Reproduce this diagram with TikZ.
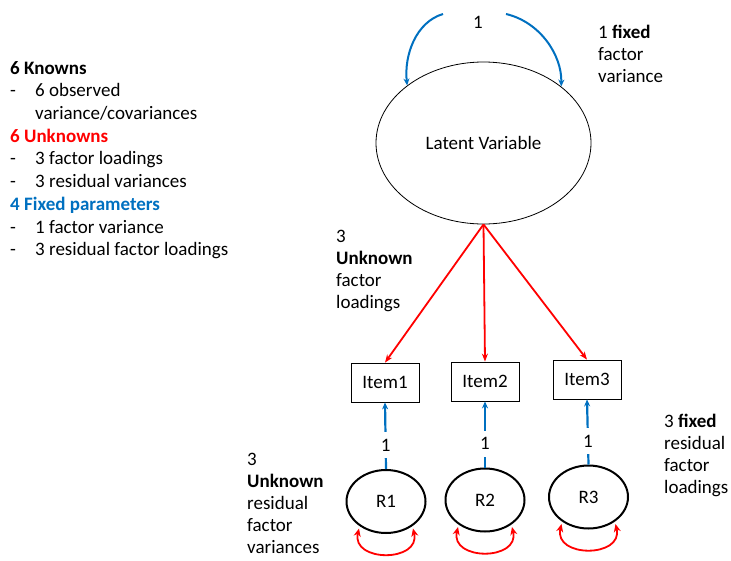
\documentclass[tikz,border=0pt]{standalone}
\usepackage{fontspec}
\setmainfont{Carlito}
\usetikzlibrary{shapes.geometric,arrows.meta}
\definecolor{fixblue}{RGB}{0,112,192}
\definecolor{unkred}{RGB}{255,0,0}
\begin{document}
\begin{tikzpicture}[x=1pt,y=-1pt,
  txt/.style={font=\fontsize{19}{22}\selectfont},
  lbl/.style={txt,align=left,anchor=north west,inner sep=0pt},
  latent/.style={draw,ellipse,line width=0.8pt,minimum width=215pt,minimum height=162pt,inner sep=0pt,txt},
  item/.style={draw,rectangle,line width=0.8pt,minimum width=68pt,minimum height=39pt,inner sep=0pt,txt},
  resid/.style={draw,ellipse,line width=2pt,minimum width=79pt,minimum height=63pt,inner sep=0pt,txt},
  loading/.style={draw=unkred,line width=1.8pt,-{Stealth[length=8pt,width=6pt]}},
  fixedarr/.style={draw=fixblue,line width=2.2pt,-{Stealth[length=7pt,width=6pt]}},
  resvar/.style={draw=unkred,line width=1.8pt,{Stealth[length=8pt,width=7pt]}-{Stealth[length=8pt,width=7pt]}},
  one/.style={txt,fill=white,inner xsep=2pt,inner ysep=7pt}
]
\useasboundingbox (0,0) rectangle (731,560);

% summary of knowns / unknowns
\node[lbl,font=\fontsize{19}{22.7}\selectfont] (summary) at (10,61) {%
  \textbf{6 Knowns}\\
  \makebox[25pt][l]{-}6 observed\\
  \makebox[25pt][l]{}variance/covariances\\
  \textcolor{unkred}{\textbf{6 Unknowns}}\\
  \makebox[25pt][l]{-}3 factor loadings\\
  \makebox[25pt][l]{-}3 residual variances\\
  \textcolor{fixblue}{\textbf{4 Fixed parameters}}\\
  \makebox[25pt][l]{-}1 factor variance\\
  \makebox[25pt][l]{-}3 residual factor loadings};

% latent factor with fixed variance
\node[latent] (lv) at (483.5,143) {Latent Variable};
\node[txt,inner sep=1pt] (v1) at (478,22) {1};
\coordinate (vl) at (443,14);
\coordinate (vr) at (506,14);
\draw[fixedarr,line width=2pt] (vl) .. controls (416,22) and (404,55) .. (lv.143);
\draw[fixedarr,line width=2pt] (vr) .. controls (540,22) and (562,55) .. (lv.36);
\node[lbl] (fixvar) at (598,25) {1 \textbf{fixed}\\factor\\variance};

% observed items
\node[item] (i1) at (385,382.5) {Item1};
\node[item] (i2) at (485,381.5) {Item2};
\node[item] (i3) at (587,379.5) {Item3};

\draw[loading] (lv.south) -- (i1.north);
\draw[loading] (lv.south) -- (i2.north);
\draw[loading] (lv.south) -- (i3.north);
\node[lbl] (loadlbl) at (336,230) {3\\\textbf{Unknown}\\factor\\loadings};

% residual factors
\node[resid] (r1) at (386,501.5) {R1};
\node[resid] (r2) at (485,500) {R2};
\node[resid] (r3) at (588.5,497) {R3};

\draw[fixedarr] (r1.north) -- node[one,pos=0.36] (f1) {1} (i1.south);
\draw[fixedarr] (r2.north) -- node[one,pos=0.36] (f2) {1} (i2.south);
\draw[fixedarr] (r3.north) -- node[one,pos=0.36] (f3) {1} (i3.south);

\foreach \r in {r1,r2,r3}
  \draw[resvar] ([shift={(-27,27)}]\r.center) .. controls +(-8,34) and +(8,34) .. ([shift={(27,27)}]\r.center);

\node[lbl] (reslbl) at (247,453) {3\\\textbf{Unknown}\\residual\\factor\\variances};
\node[lbl] (fixres) at (664,414) {3 \textbf{fixed}\\residual\\factor\\loadings};
\end{tikzpicture}
\end{document}
